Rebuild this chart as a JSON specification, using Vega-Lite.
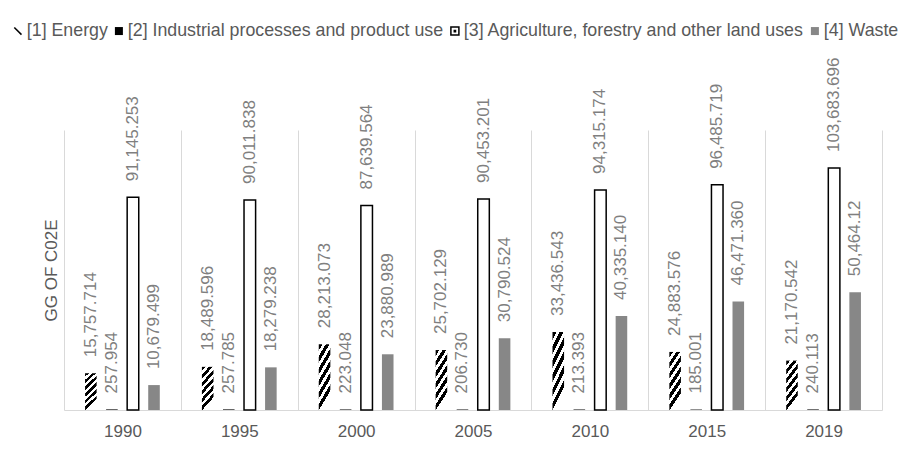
{
  "$schema": "https://vega.github.io/schema/vega-lite/v6.json",
  "width": 818,
  "height": 280,
  "autosize": {"type": "none"},
  "padding": {"left": 64, "top": 130, "right": 27, "bottom": 47},
  "background": "white",
  "config": {
    "font": "Liberation Sans",
    "view": {"stroke": null},
    "legend": {
      "title": null,
      "orient": "none",
      "legendX": -55,
      "legendY": -108,
      "direction": "horizontal",
      "symbolSize": 64,
      "symbolStrokeWidth": 1.5,
      "symbolOpacity": 1,
      "labelFontSize": 17.8,
      "labelColor": "#595959",
      "labelLimit": 1000,
      "labelOffset": 0,
      "columnPadding": 2
    }
  },
  "data": {
    "values": [
      {"year": "1990", "cat": "[1] Energy", "value": 15757.714, "label": "15,757.714"},
      {"year": "1990", "cat": "[2] Industrial processes and product use", "value": 257.954, "label": "257.954"},
      {"year": "1990", "cat": "[3] Agriculture, forestry and other land uses", "value": 91145.253, "label": "91,145.253"},
      {"year": "1990", "cat": "[4] Waste", "value": 10679.499, "label": "10,679.499"},
      {"year": "1995", "cat": "[1] Energy", "value": 18489.596, "label": "18,489.596"},
      {"year": "1995", "cat": "[2] Industrial processes and product use", "value": 257.785, "label": "257.785"},
      {"year": "1995", "cat": "[3] Agriculture, forestry and other land uses", "value": 90011.838, "label": "90,011.838"},
      {"year": "1995", "cat": "[4] Waste", "value": 18279.238, "label": "18,279.238"},
      {"year": "2000", "cat": "[1] Energy", "value": 28213.073, "label": "28,213.073"},
      {"year": "2000", "cat": "[2] Industrial processes and product use", "value": 223.048, "label": "223.048"},
      {"year": "2000", "cat": "[3] Agriculture, forestry and other land uses", "value": 87639.564, "label": "87,639.564"},
      {"year": "2000", "cat": "[4] Waste", "value": 23880.989, "label": "23,880.989"},
      {"year": "2005", "cat": "[1] Energy", "value": 25702.129, "label": "25,702.129"},
      {"year": "2005", "cat": "[2] Industrial processes and product use", "value": 206.730, "label": "206.730"},
      {"year": "2005", "cat": "[3] Agriculture, forestry and other land uses", "value": 90453.201, "label": "90,453.201"},
      {"year": "2005", "cat": "[4] Waste", "value": 30790.524, "label": "30,790.524"},
      {"year": "2010", "cat": "[1] Energy", "value": 33436.543, "label": "33,436.543"},
      {"year": "2010", "cat": "[2] Industrial processes and product use", "value": 213.393, "label": "213.393"},
      {"year": "2010", "cat": "[3] Agriculture, forestry and other land uses", "value": 94315.174, "label": "94,315.174"},
      {"year": "2010", "cat": "[4] Waste", "value": 40335.140, "label": "40,335.140"},
      {"year": "2015", "cat": "[1] Energy", "value": 24883.576, "label": "24,883.576"},
      {"year": "2015", "cat": "[2] Industrial processes and product use", "value": 185.001, "label": "185.001"},
      {"year": "2015", "cat": "[3] Agriculture, forestry and other land uses", "value": 96485.719, "label": "96,485.719"},
      {"year": "2015", "cat": "[4] Waste", "value": 46471.360, "label": "46,471.360"},
      {"year": "2019", "cat": "[1] Energy", "value": 21170.542, "label": "21,170.542"},
      {"year": "2019", "cat": "[2] Industrial processes and product use", "value": 240.113, "label": "240.113"},
      {"year": "2019", "cat": "[3] Agriculture, forestry and other land uses", "value": 103683.696, "label": "103,683.696"},
      {"year": "2019", "cat": "[4] Waste", "value": 50464.12, "label": "50,464.12"}
    ]
  },
  "encoding": {
    "x": {
      "field": "year",
      "type": "nominal",
      "scale": {"paddingInner": 0, "paddingOuter": 0},
      "axis": {
        "title": null,
        "labelAngle": 0,
        "labelFontSize": 17,
        "labelColor": "#595959",
        "labelPadding": 13,
        "ticks": false,
        "tickSize": 0,
        "grid": true,
        "tickBand": "extent",
        "gridColor": "#d9d9d9",
        "gridWidth": 1,
        "domainColor": "#d9d9d9",
        "domainWidth": 1
      }
    },
    "xOffset": {
      "field": "cat",
      "type": "nominal",
      "scale": {
        "domain": ["[1] Energy", "[2] Industrial processes and product use", "[3] Agriculture, forestry and other land uses", "[4] Waste"],
        "paddingInner": 0.45,
        "paddingOuter": 1.22
      }
    },
    "y": {
      "field": "value",
      "type": "quantitative",
      "scale": {"domain": [0, 120000], "nice": false},
      "axis": {
        "title": "GG OF C02E",
        "titleFontSize": 17,
        "titleFontWeight": "normal",
        "titleColor": "#595959",
        "titlePadding": 4,
        "labels": false,
        "ticks": false,
        "tickSize": 0,
        "grid": false,
        "domain": false
      }
    }
  },
  "layer": [
    {
      "mark": {"type": "bar", "strokeWidth": 1.5},
      "encoding": {
        "fill": {
          "field": "cat",
          "type": "nominal",
          "scale": {
            "domain": ["[1] Energy", "[2] Industrial processes and product use", "[3] Agriculture, forestry and other land uses", "[4] Waste"],
            "range": ["#ffffff", "#000000", "#ffffff", "#878787"]
          }
        },
        "stroke": {
          "condition": {"test": "datum.cat === '[3] Agriculture, forestry and other land uses'", "value": "#000000"},
          "value": "transparent"
        }
      }
    },
    {
      "transform": [{"filter": "datum.cat === '[1] Energy'"}],
      "mark": {
        "type": "bar",
        "fill": {"gradient": "linear", "x1": 0, "y1": 0, "x2": 0.3, "y2": 1, "stops": [
          {"offset": 0, "color": "#000000"}, {"offset": 0.09, "color": "#000000"}, {"offset": 0.09, "color": "#ffffff"}, {"offset": 0.1667, "color": "#ffffff"},
          {"offset": 0.1667, "color": "#000000"}, {"offset": 0.2567, "color": "#000000"}, {"offset": 0.2567, "color": "#ffffff"}, {"offset": 0.3333, "color": "#ffffff"},
          {"offset": 0.3333, "color": "#000000"}, {"offset": 0.4233, "color": "#000000"}, {"offset": 0.4233, "color": "#ffffff"}, {"offset": 0.5, "color": "#ffffff"},
          {"offset": 0.5, "color": "#000000"}, {"offset": 0.59, "color": "#000000"}, {"offset": 0.59, "color": "#ffffff"}, {"offset": 0.6667, "color": "#ffffff"},
          {"offset": 0.6667, "color": "#000000"}, {"offset": 0.7567, "color": "#000000"}, {"offset": 0.7567, "color": "#ffffff"}, {"offset": 0.8333, "color": "#ffffff"},
          {"offset": 0.8333, "color": "#000000"}, {"offset": 0.9233, "color": "#000000"}, {"offset": 0.9233, "color": "#ffffff"}, {"offset": 1, "color": "#ffffff"}
        ]}
      },
      "encoding": {}
    },
    {
      "mark": {"type": "point", "filled": true, "strokeWidth": 1.5, "opacity": 0},
      "encoding": {
        "fill": {
          "field": "cat",
          "type": "nominal",
          "scale": {
            "domain": ["[1] Energy", "[2] Industrial processes and product use", "[3] Agriculture, forestry and other land uses", "[4] Waste"],
            "range": ["#ffffff", "#000000", "#ffffff", "#878787"]
          }
        },
        "stroke": {
          "field": "cat",
          "type": "nominal",
          "scale": {
            "domain": ["[1] Energy", "[2] Industrial processes and product use", "[3] Agriculture, forestry and other land uses", "[4] Waste"],
            "range": ["#000000", "transparent", "#000000", "transparent"]
          }
        },
        "shape": {
          "field": "cat",
          "type": "nominal",
          "scale": {
            "domain": ["[1] Energy", "[2] Industrial processes and product use", "[3] Agriculture, forestry and other land uses", "[4] Waste"],
            "range": ["M-0.9,-0.9L0.9,0.9", "square", "M-1,-1H1V1H-1ZM-0.15,-0.15H0.15V0.15H-0.15Z", "square"]
          }
        }
      }
    },
    {
      "mark": {
        "type": "text",
        "angle": 270,
        "align": "left",
        "baseline": "middle",
        "dx": 16,
        "fontSize": 17,
        "color": "#7f7f7f"
      },
      "encoding": {
        "text": {"field": "label", "type": "nominal"}
      }
    }
  ]
}
